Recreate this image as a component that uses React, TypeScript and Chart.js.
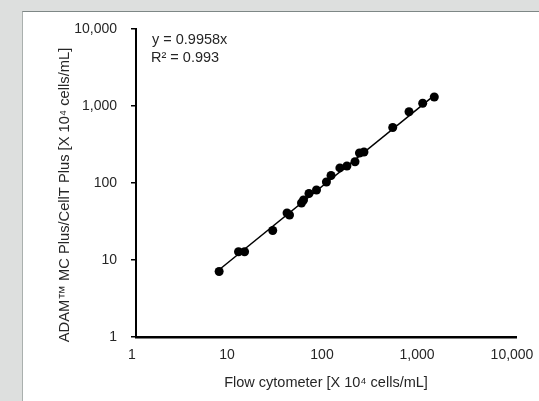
import React, { useEffect, useRef } from "react";
import { Chart, registerables } from "chart.js";

Chart.register(...registerables);

// Flow cytometer counts (x) vs ADAM MC Plus / CellT Plus counts (y), X 10^4 cells/mL
const flowCytometer = [7.5, 12.0, 13.9, 27.5, 38.9, 41.3, 55.2, 58.0, 66.2, 79.4, 101, 113, 140, 166, 202, 225, 251, 504, 748, 1042, 1380];
const adamMcPlus = [7.1, 12.8, 12.8, 24.2, 40.8, 38.4, 55.0, 60.1, 73.1, 81.1, 103, 125, 157, 166, 189, 245, 253, 526, 843, 1084, 1309];
const axisTicks = [1, 10, 100, 1000, 10000];
const slope = 0.9958;
const rSquared = 0.993;

const xTitle = "Flow cytometer [X 10\u2074 cells/mL]";
const yTitle = "ADAM\u2122 MC Plus/CellT Plus [X 10\u2074 cells/mL]";

const FONT = '"Liberation Sans", Arial, sans-serif';
const TEXT = "#262626";

export default function App() {
  const ref = useRef<HTMLCanvasElement | null>(null);

  useEffect(() => {
    if (!ref.current) return;
    const points = flowCytometer.map((x, i) => ({ x, y: adamMcPlus[i] }));
    const xMin = Math.min(...flowCytometer);
    const xMax = Math.max(...flowCytometer);
    const trend = [
      { x: xMin, y: slope * xMin },
      { x: xMax, y: slope * xMax },
    ];

    const annot = {
      id: "annot",
      afterDraw(chart: any) {
        const ctx = chart.ctx;
        const area = chart.chartArea;
        ctx.save();
        ctx.fillStyle = TEXT;
        ctx.font = `14.5px ${FONT}`;
        ctx.textBaseline = "middle";
        ctx.textAlign = "left";
        ctx.fillText(`y = ${slope}x`, area.left + 16, area.top + 11);
        ctx.fillText(`R\u00b2 = ${rSquared}`, area.left + 15, area.top + 28.5);
        ctx.font = `14.7px ${FONT}`;
        ctx.translate(65, (area.top + area.bottom) / 2 + 12);
        ctx.rotate(-Math.PI / 2);
        ctx.textAlign = "center";
        ctx.fillText(yTitle, 0, 0);
        ctx.restore();
      },
    };

    const fmt = (v: any) => Number(v).toLocaleString("en-US");

    const chart = new Chart(ref.current, {
      type: "scatter",
      data: {
        datasets: [
          {
            type: "line",
            data: trend,
            borderColor: "#000",
            borderWidth: 1.5,
            pointRadius: 0,
            fill: false,
          } as any,
          {
            data: points,
            backgroundColor: "#000",
            borderColor: "#000",
            borderWidth: 0,
            pointRadius: 4.5,
          },
        ],
      },
      options: {
        responsive: false,
        animation: false,
        layout: { padding: { left: 0, right: 23, top: 29, bottom: 0 } },
        plugins: { legend: { display: false }, tooltip: { enabled: false } },
        scales: {
          x: {
            type: "logarithmic",
            min: 1,
            max: 10000,
            afterBuildTicks: (s: any) => {
              s.ticks = axisTicks.map((v) => ({ value: v }));
            },
            afterFit: (s: any) => {
              s.height = 64;
              s.paddingLeft = 0;
              s.paddingRight = 0;
            },
            grid: { display: false, drawTicks: false },
            border: { display: true, color: "#000", width: 2.5 },
            ticks: {
              font: { family: FONT, size: 14 },
              color: TEXT,
              padding: 10,
              labelOffset: -4,
              maxRotation: 0,
              autoSkip: false,
              callback: fmt,
            },
            title: {
              display: true,
              text: xTitle,
              font: { family: FONT, size: 14.5 },
              color: TEXT,
              padding: { top: 0, bottom: 9 },
            },
          },
          y: {
            type: "logarithmic",
            min: 1,
            max: 10000,
            afterBuildTicks: (s: any) => {
              s.ticks = axisTicks.map((v) => ({ value: v }));
            },
            afterFit: (s: any) => {
              s.width = 136;
              s.paddingTop = 0;
              s.paddingBottom = 0;
            },
            grid: {
              display: true,
              drawOnChartArea: false,
              drawTicks: true,
              tickLength: 5,
              color: "#000",
              lineWidth: 1.5,
            },
            border: { display: true, color: "#000", width: 2 },
            ticks: {
              font: { family: FONT, size: 14 },
              color: TEXT,
              padding: 14,
              autoSkip: false,
              callback: fmt,
            },
          },
        },
      },
      plugins: [annot],
    });
    return () => chart.destroy();
  }, []);

  return (
    <div style={{ position: "fixed", left: 0, top: 0, width: 539, height: 401, background: "#dddfde", overflow: "hidden" }}>
      <div
        style={{
          position: "absolute",
          left: 22,
          top: 11,
          right: 0,
          bottom: 0,
          background: "#fff",
          borderTop: "1px solid #7e8786",
          borderLeft: "1px solid #aab0ae",
        }}
      />
      <canvas ref={ref} width={539} height={401} style={{ position: "absolute", left: 0, top: 0 }} />
    </div>
  );
}
